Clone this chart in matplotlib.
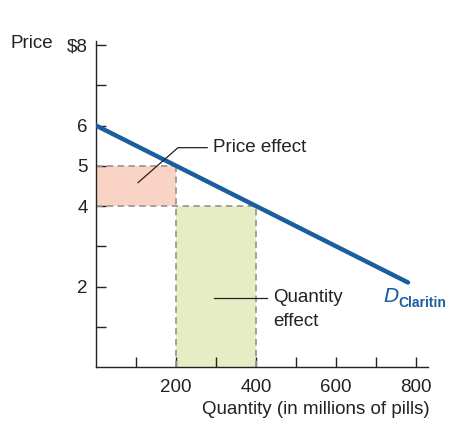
import matplotlib
matplotlib.use("Agg")
import matplotlib.pyplot as plt

# Data
demand_q = [0, 780]
demand_p = [6, 2.1]
p_old, p_new = 5, 4
q_old, q_new = 200, 400
y_ticks = [1, 2, 3, 4, 5, 6, 7, 8]
y_labels = ["", "2", "", "4", "5", "6", "", "$8"]
x_ticks = [100, 200, 300, 400, 500, 600, 700, 800]
x_labels = ["", "200", "", "400", "", "600", "", "800"]

plt.rcParams['font.family'] = ['Liberation Sans', 'DejaVu Sans']

fig = plt.figure(figsize=(4.64, 4.46), dpi=100)
ax = fig.add_axes([96/464, 79/446, 332/464, 326/446])
ax.set_xlim(0, 830)
ax.set_ylim(0, 8.1)

# Shaded areas
ax.fill_between([0, q_old], p_new, p_old, color="#f9d3c3", lw=0, zorder=1)
ax.fill_between([q_old, q_new], 0, p_new, color="#e6edc4", lw=0, zorder=1)

dash = dict(color="#9a9a9a", lw=1.3, ls=(0, (3.5, 2.5)), zorder=2)
ax.plot([0, q_old], [p_old, p_old], **dash)
ax.plot([q_old, q_old], [0, p_old], **dash)
ax.plot([0, q_new], [p_new, p_new], **dash)
ax.plot([q_new, q_new], [0, p_new], **dash)

# Demand
ax.plot(demand_q, demand_p, color="#1a5e9f", lw=3.2, solid_capstyle="round", zorder=3)

# Spines / ticks
for s in ["top", "right"]:
    ax.spines[s].set_visible(False)
for s in ["left", "bottom"]:
    ax.spines[s].set_linewidth(1.0)
    ax.spines[s].set_color("#222222")
ax.set_yticks(y_ticks)
ax.set_yticklabels(y_labels)
ax.set_xticks(x_ticks)
ax.set_xticklabels(x_labels)
ax.tick_params(direction="in", length=7, width=1.0, color="#222222",
               labelsize=13.5, labelcolor="#222222")
ax.tick_params(axis="y", pad=6)
ax.tick_params(axis="x", pad=9)

fig.text(10/464, 1 - 44/446, "Price", fontsize=13.5, color="#222222", va="center", ha="left")
ax.set_xlabel("Quantity (in millions of pills)", fontsize=13.5, color="#222222")
ax.xaxis.set_label_coords(1.005, -0.105)
ax.xaxis.label.set_ha("right")

# Annotations
ax.plot([105, 205, 278], [4.58, 5.45, 5.45], color="#222222", lw=0.9, zorder=4)
ax.text(292, 5.45, "Price effect", fontsize=13.5, va="center", ha="left", color="#222222")
ax.plot([295, 428], [1.72, 1.72], color="#222222", lw=0.9, zorder=4)
ax.text(442, 1.72, "Quantity", fontsize=13.5, va="center", ha="left", color="#222222")
ax.text(442, 1.14, "effect", fontsize=13.5, va="center", ha="left", color="#222222")
ax.text(718, 1.74, r"$D$", fontsize=14.5, va="center", ha="left", color="#1a5e9f")
ax.text(755, 1.60, "Claritin", fontsize=10, va="center", ha="left", color="#1a5e9f",
        fontweight="bold")

fig.savefig("out.png", dpi=100)
